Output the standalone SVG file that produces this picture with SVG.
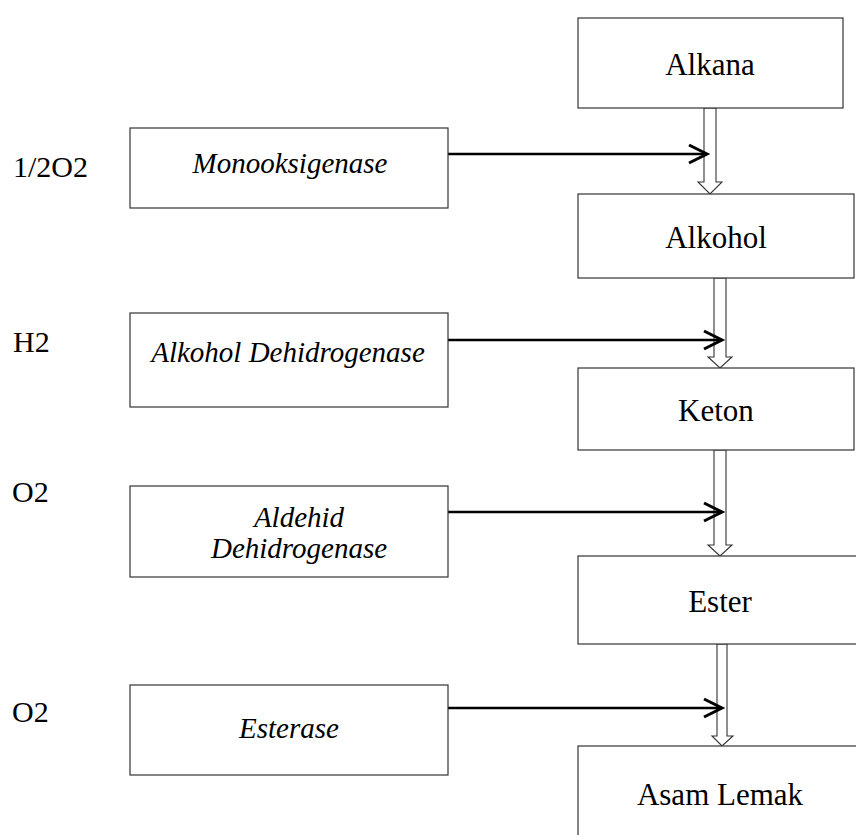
<svg xmlns="http://www.w3.org/2000/svg" width="856" height="835" viewBox="0 0 856 835">
<style>
.box{fill:#fff;stroke:#333;stroke-width:1.2}
text{font-family:'Liberation Serif','Times New Roman','DejaVu Serif',serif;fill:#000}
.up{font-size:31px;text-anchor:middle}
.it{font-size:29px;font-style:italic;text-anchor:middle}
.lbl{font-size:30px}
.ln{fill:none;stroke:#000;stroke-width:2.5}
.hd{fill:none;stroke:#000;stroke-width:3;stroke-linejoin:miter}
.hollow{fill:#fff;stroke:#333;stroke-width:1.1}
</style>
<rect width="856" height="835" fill="#fff"/>
<g id="connectors">
  <polygon class="hollow" points="704,108 716,108 716,182 722,182 710,194 698,182 704,182"/>
  <polygon class="hollow" points="714,278 726,278 726,357 732,357 720,368 708,357 714,357"/>
  <polygon class="hollow" points="714,450 726,450 726,545 732,545 720,556 708,545 714,545"/>
  <polygon class="hollow" points="717,644 727,644 727,736 733,736 722,746 712,736 717,736"/>
  <line class="ln" x1="448" y1="154" x2="705" y2="154"/>
  <polyline class="hd" points="689,145 707,154 689,163"/>
  <line class="ln" x1="448" y1="340" x2="720" y2="340"/>
  <polyline class="hd" points="704,331 722,340 704,349"/>
  <line class="ln" x1="448" y1="512" x2="720" y2="512"/>
  <polyline class="hd" points="704,503 722,512 704,521"/>
  <line class="ln" x1="448" y1="708" x2="720" y2="708"/>
  <polyline class="hd" points="704,699 722,708 704,717"/>
</g>
<g id="alkana"><rect class="box" x="578" y="18" width="265" height="90"/><text class="up" x="710" y="75" font-family="Liberation Serif">Alkana</text></g>
<g id="alkohol"><rect class="box" x="578" y="194" width="276" height="84"/><text class="up" x="716" y="248" font-family="Liberation Serif">Alkohol</text></g>
<g id="keton"><rect class="box" x="578" y="368" width="276" height="82"/><text class="up" x="716" y="421" font-family="Liberation Serif">Keton</text></g>
<g id="ester"><rect class="box" x="578" y="556" width="290" height="88"/><text class="up" x="720" y="612" font-family="Liberation Serif">Ester</text></g>
<g id="asam-lemak"><rect class="box" x="578" y="746" width="290" height="100"/><text class="up" x="720" y="805" font-family="Liberation Serif">Asam Lemak</text></g>
<g id="monooksigenase"><rect class="box" x="130" y="128" width="318" height="80"/><text class="it" x="290" y="173" font-family="Liberation Serif">Monooksigenase</text></g>
<g id="alkohol-dehidrogenase"><rect class="box" x="130" y="313" width="318" height="94"/><text class="it" x="288" y="362" font-family="Liberation Serif">Alkohol Dehidrogenase</text></g>
<g id="aldehid-dehidrogenase"><rect class="box" x="130" y="486" width="318" height="91"/><text class="it" x="299" y="527" font-family="Liberation Serif">Aldehid</text><text class="it" x="299" y="558" font-family="Liberation Serif">Dehidrogenase</text></g>
<g id="esterase"><rect class="box" x="130" y="685" width="318" height="90"/><text class="it" x="289" y="738" font-family="Liberation Serif">Esterase</text></g>
<g id="labels">
  <text class="lbl" x="13" y="177" font-family="Liberation Serif">1/2O2</text>
  <text class="lbl" x="13" y="352" font-family="Liberation Serif">H2</text>
  <text class="lbl" x="12" y="502" font-family="Liberation Serif">O2</text>
  <text class="lbl" x="12" y="722" font-family="Liberation Serif">O2</text>
</g>
</svg>
